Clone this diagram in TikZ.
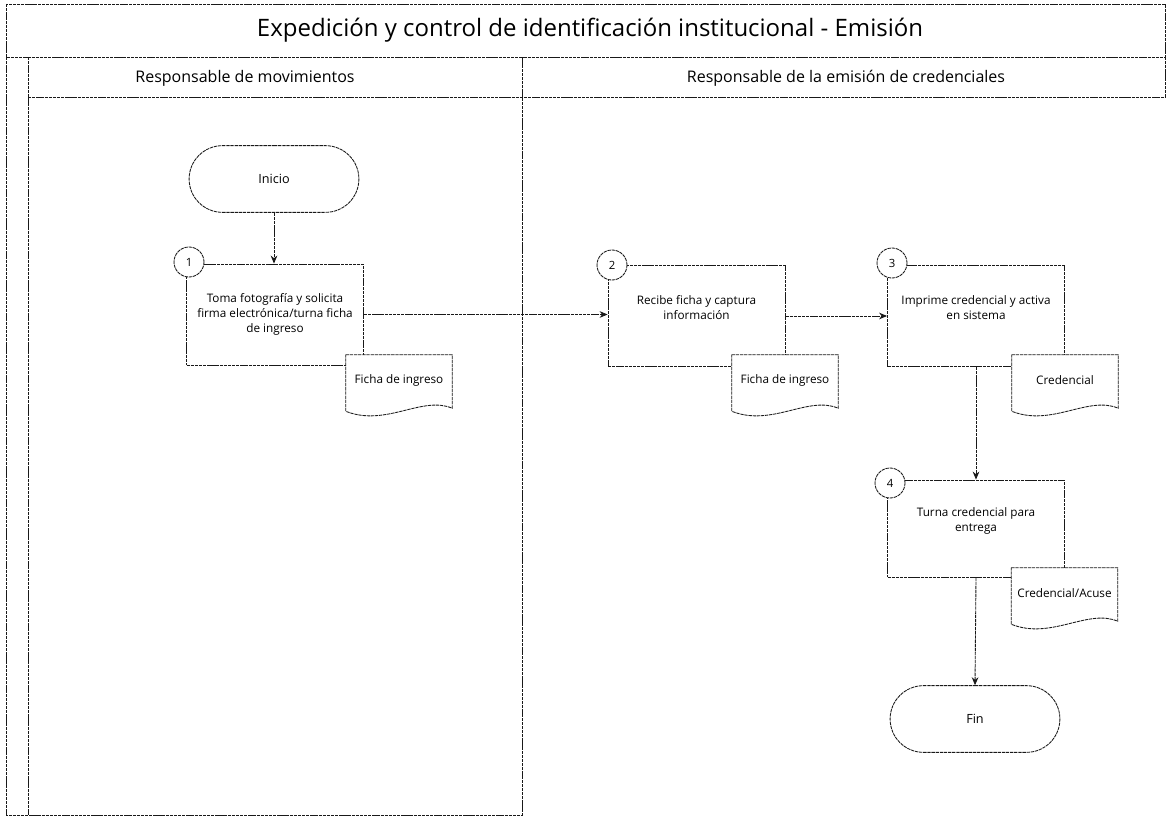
\documentclass[tikz,border=0pt]{standalone}
\usepackage{fontspec}
\setmainfont{Open Sans}
\usetikzlibrary{arrows.meta,shapes.misc,calc}

\tikzset{
  ln/.style={draw=black!90, line width=0.65pt, dash pattern=on 2.5pt off 0.6pt},
  proc/.style={ln, rectangle, fill=white, minimum width=132.75pt, minimum height=75.75pt, inner sep=0pt, align=center, font=\fontsize{8.8}{11}\selectfont},
  term/.style={ln, rounded rectangle, fill=white, minimum width=134pt, minimum height=50pt, font=\fontsize{9.5}{11}\selectfont},
  num/.style={ln, circle, fill=white, minimum size=22.5pt, inner sep=0pt, font=\fontsize{8.5}{10}\selectfont},
  docu/.style={rectangle, draw=none, fill=white, minimum width=79.5pt, minimum height=37.5pt, inner sep=0pt, font=\fontsize{8.8}{10}\selectfont},
  flecha/.style={ln, -{Stealth[length=6pt,width=5pt]}}
}

\begin{document}
\begin{tikzpicture}[x=0.75pt,y=0.75pt,yscale=-1,xscale=1]
    \useasboundingbox (0,0) rectangle (1167,820);

    %Shape: Pool and lanes
    \draw [ln] (6,4) rectangle (1165,57) ;
    \draw [ln] (6,57) -- (6,815) -- (522,815) -- (522,57) ;
    \draw [ln] (28,57) -- (28,815) ;
    \draw [ln] (28,97) -- (1165,97) -- (1165,57) ;

    % Text Node
    \node [font=\fontsize{18}{21}\selectfont] (titulo) at (590,30) {Expedición y control de identificación institucional - Emisión};
    % Text Node
    \node [font=\fontsize{12}{14}\selectfont] (carril1) at (245,78) {Responsable de movimientos};
    % Text Node
    \node [font=\fontsize{12}{14}\selectfont] (carril2) at (846,78) {Responsable de la emisión de credenciales};

    %Shape: Terminator
    \node [term] (inicio) at (274,179) {Inicio};
    %Shape: Terminator
    \node [term] (fin) at (975,719) {Fin};

    %Shape: Process
    \node [proc] (paso1) at (275,314.5) {Toma fotografía y solicita\\firma electrónica/turna ficha\\de ingreso};
    %Shape: Process
    \node [proc] (paso2) at (696.5,316) {Recibe ficha y captura\\información\\[2pt]};
    %Shape: Process
    \node [proc] (paso3) at (976,316) {Imprime credencial y activa\\en sistema\\[2pt]};
    %Shape: Process
    \node [proc, minimum height=72.75pt] (paso4) at (976,528.5) {Turna credencial para\\entrega\\[2pt]};

    %Shape: Number circles
    \node [num] (n1) at (189,262) {1};
    \node [num] (n2) at (612,265) {2};
    \node [num] (n3) at (892,263) {3};
    \node [num] (n4) at (890,483) {4};

    %Shape: Documents
    \node [docu] (doc1) at (399,380) {Ficha de ingreso};
    \node [docu] (doc2) at (785,380) {Ficha de ingreso};
    \node [docu] (doc3) at (1065,380) {Credencial};
    \node [docu] (doc4) at (1064.5,593) {Credencial/Acuse};
    \foreach \d in {doc1,doc2,doc3,doc4}
      \draw [ln] (\d.north west) -- (\d.north east) -- ($(\d.south east)+(0,3)$) .. controls ($(\d.south east)+(-30,-10)$) and ($(\d.south west)+(40,22)$) .. ($(\d.south west)+(0,6)$) -- cycle ;

    % Connectors
    \draw [flecha] (inicio.south) -- (inicio.south |- paso1.north) ;
    \draw [flecha] (paso1.east) -- (paso1.east -| paso2.west) ;
    \draw [flecha] (paso2.east) -- (paso3.west) ;
    \draw [flecha] (paso3.south) -- (paso4.north) ;
    \draw [flecha] (paso4.south) -- (fin.north) ;
\end{tikzpicture}
\end{document}
